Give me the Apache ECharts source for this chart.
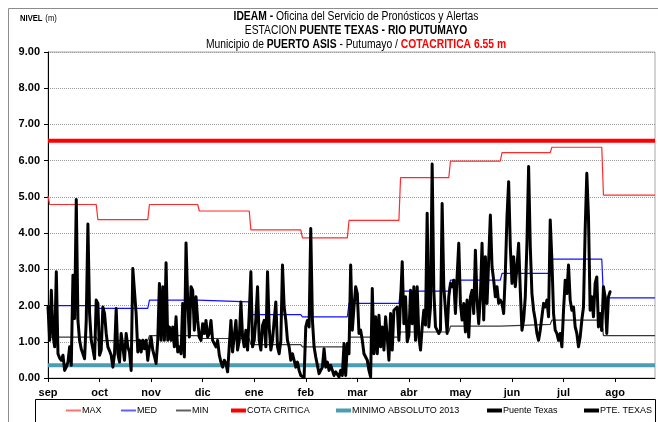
<!DOCTYPE html>
<html>
<head>
<meta charset="utf-8">
<script src="https://cdn.jsdelivr.net/npm/echarts@6/dist/echarts.min.js"></script>
<style>
  html, body { margin: 0; padding: 0; background: #fff; }
  #chart { width: 658px; height: 422px; }
</style>
</head>
<body>
<div id="chart"></div>
<script>
// Hydrological year, September to August
const months = ['sep', 'oct', 'nov', 'dic', 'ene', 'feb', 'mar', 'abr', 'may', 'jun', 'jul', 'ago'];
const monthDays = [30, 31, 30, 31, 31, 28, 31, 30, 31, 30, 31, 31];
const tickEvery = 31;   // days between month ticks on the category-style axis
const yearDays = 365;

// Monthly reference levels (m)
const maxLevel = [4.79, 4.37, 4.79, 4.61, 4.09, 3.87, 4.35, 5.53, 5.99, 6.22, 6.37, 5.05];
const maxFirstDay = 5.03;
const medLevel = [2.00, 1.92, 2.15, 2.10, 1.75, 1.69, 2.06, 2.40, 2.70, 2.89, 3.28, 2.21];
const minLevel = [1.13, 1.03, 1.17, 1.09, 0.92, 0.86, 1.13, 1.27, 1.43, 1.48, 1.60, 1.17];

const cotaCritica = 6.55;
const minimoAbsoluto2013 = 0.35;

// Daily level at Puente Texas (m), from 1 September
const dailyLevel = [
  // sep
  1.96, 1.04, 2.42, 1.20, 0.86, 2.93, 0.67, 0.55, 0.49, 0.63, 0.21, 0.30, 0.44, 0.86, 0.35, 2.84, 1.64, 4.93, 1.59, 1.04,
  0.80, 0.67, 0.53, 1.59, 4.25, 1.78, 1.04, 0.80, 0.53, 2.15, 2.06, 0.63, 0.77,
  // oct
  1.96, 1.78, 1.23, 0.86, 0.75, 0.63, 0.30, 0.67, 1.92, 0.67, 0.44, 1.23, 0.86, 0.49, 1.23, 0.86, 0.72, 0.21, 3.02, 2.98,
  1.78, 0.72, 1.04, 0.72, 1.04, 0.81, 1.04, 0.49, 0.86, 1.13,
  // nov
  0.77, 0.60, 0.40, 1.04, 2.61, 1.04, 2.52, 1.04, 3.18, 1.04, 1.41, 1.04, 1.41, 0.86, 1.69, 0.72, 0.86, 0.67, 2.06, 0.58,
  3.73, 2.15, 1.13, 2.52, 2.42, 1.32, 2.24, 1.59, 1.13,
  // dic
  1.04, 1.50, 1.23, 1.59, 1.13, 1.23, 1.59, 1.04, 0.95, 0.86, 1.04, 0.63, 0.44, 0.30, 0.49, 0.40, 0.17, 0.21, 1.59, 0.72,
  0.67, 1.59, 0.77, 1.04, 2.10, 1.13, 0.86, 1.32, 0.77, 1.78,
  // ene
  2.93, 0.86, 1.04, 1.64, 2.52, 1.04, 0.77, 1.45, 1.59, 0.86, 2.93, 1.41, 0.77, 1.04, 1.59, 2.10, 0.86, 0.67, 1.04, 3.12,
  1.96, 1.59, 1.04, 0.86, 0.49, 0.67, 0.49, 0.30, 0.44, 0.21, 0.07, 0.03, 0.01,
  // feb
  1.41, 1.59, 1.41, 4.13, 1.59, 0.86, 0.58, 0.35, 0.12, 0.21, 0.30, 0.81, 0.30, 0.44, 0.21, 0.35, 0.21, 0.07, 0.17, 0.10,
  0.03, 0.21, 0.07, 0.95, 0.07, 0.95, 0.67,
  // mar
  3.12, 1.32, 1.96, 2.52, 2.33, 1.23, 1.32, 1.04, 0.67, 0.58, 0.49, 0.21, 0.03, 2.47, 0.67, 1.69, 0.67, 1.73, 0.86, 1.41,
  0.77, 1.69, 1.13, 0.49, 1.78, 0.77, 1.87, 1.87, 1.96, 1.04, 1.04, 3.21,
  // abr
  1.50, 2.24, 1.00, 1.18, 2.42, 1.50, 2.52, 1.04, 2.52, 1.13, 0.77, 1.41, 1.87, 1.46, 4.55, 1.41, 1.96, 5.91, 2.42, 1.41,
  1.32, 1.23, 1.32, 4.82, 2.52, 1.87, 1.23, 2.24,
  // may
  2.61, 2.52, 2.70, 1.78, 2.79, 3.72, 2.06, 1.60, 2.06, 1.27, 2.15, 1.13, 2.24, 2.42, 1.78, 3.53, 2.15, 1.50, 2.24, 3.72,
  1.60, 3.35, 2.06, 3.26, 4.50, 3.07, 2.70, 2.24, 2.52, 2.06, 2.15,
  // jun
  2.06, 1.78, 2.89, 4.45, 5.42, 3.63, 2.61, 3.35, 2.52, 3.07, 3.72, 2.42, 1.32, 1.60, 2.24, 3.72, 5.84, 3.63, 2.33, 1.87,
  1.60, 1.23, 1.04, 1.32, 1.69, 2.06, 1.96, 2.15, 1.69, 4.36,
  // jul - ago
  3.26, 1.78, 1.32, 1.23, 1.04, 1.23, 0.86, 1.87, 2.70, 2.33, 3.12, 2.15, 1.87, 1.96, 1.41, 1.23, 0.86, 1.13, 1.60, 1.96,
  4.08, 5.65, 4.45, 1.87, 2.24, 1.69, 2.61, 2.79, 1.41, 1.78, 1.32, 2.52, 2.24, 1.23, 2.24, 2.38
];
const recentFromDay = 333;  // first day shown as "PTE. TEXAS"

const legendNames = ['MAX', 'MED', 'MIN', 'COTA CRITICA', 'MINIMO ABSOLUTO 2013', 'Puente Texas', 'PTE. TEXAS'];

// ---------------------------------------------------------------------------
const SANS = "'Liberation Sans', Arial, sans-serif";
const TITLE_SQUEEZE = 0.86;   // condensed look for the heading lines

const monthStart = [];
monthDays.reduce((acc, d) => { monthStart.push(acc); return acc + d; }, 0);

// Monthly values held flat over each month, stepping on the 1st
function monthlySteps(values, firstDay) {
  const pts = [];
  values.forEach((v, i) => {
    const start = monthStart[i];
    const end = i < values.length - 1 ? monthStart[i + 1] - 1 : yearDays;
    if (i === 0 && firstDay !== undefined) {
      pts.push([start, firstDay], [start + 1, v]);
    } else {
      pts.push([start, v]);
    }
    pts.push([end, v]);
  });
  return pts;
}

const tickDays = months.map((m, i) => i * tickEvery);
const dailyPoints = dailyLevel.map((v, i) => [i, v]);

const legendLeft = [66, 121, 176, 231, 336, 487, 584];
const legendIcons = {
  'MAX': { color: '#ff7070', h: 2 },
  'MED': { color: '#6060ff', h: 2 },
  'MIN': { color: '#606060', h: 2 },
  'COTA CRITICA': { color: '#ff0000', h: 4 },
  'MINIMO ABSOLUTO 2013': { color: '#4a9db3', h: 4 },
  'Puente Texas': { color: '#000', h: 4 },
  'PTE. TEXAS': { color: '#000', h: 4 }
};

const chart = echarts.init(document.getElementById('chart'), null, { renderer: 'canvas' });

const lineBase = { type: 'line', symbol: 'none', silent: true, animation: false };

function heading(y, text, rich) {
  return {
    type: 'text', silent: true, x: 356, y, scaleX: TITLE_SQUEEZE,
    style: { align: 'center', text, rich }
  };
}
const headRich = {
  b: { fontFamily: SANS, fontWeight: 'bold', fontSize: 12, fill: '#000' },
  n: { fontFamily: SANS, fontSize: 12, fill: '#000' },
  r: { fontFamily: SANS, fontWeight: 'bold', fontSize: 12, fill: '#ff0000' }
};

chart.setOption({
  backgroundColor: '#fff',
  animation: false,
  grid: {
    left: 48, right: 3, top: 52, bottom: 44,
    show: true, borderColor: '#a8a8a8', borderWidth: 1, backgroundColor: 'transparent'
  },
  legend: legendNames.map((name, i) => ({
    data: [{ name, itemStyle: { color: legendIcons[name].color } }],
    left: legendLeft[i], top: 406,
    icon: 'rect', itemWidth: 15, itemHeight: legendIcons[name].h, itemGap: 0,
    padding: 0, selectedMode: false,
    textStyle: { fontFamily: SANS, fontSize: 9, color: '#000', padding: [0, 0, 0, -4] }
  })),
  xAxis: {
    type: 'value', min: 0, max: yearDays, interval: tickEvery,
    axisLine: { show: true, onZero: false, lineStyle: { color: '#000', width: 1 } },
    axisTick: { show: true, customValues: tickDays, length: 4, lineStyle: { color: '#000' } },
    axisLabel: {
      customValues: tickDays, margin: 9,
      formatter: v => months[Math.round(v / tickEvery)] || '',
      fontFamily: SANS, fontWeight: 'bold', fontSize: 11, color: '#000'
    },
    splitLine: { show: false }
  },
  yAxis: {
    type: 'value', min: 0, max: 9, interval: 1,
    axisLine: { show: true, lineStyle: { color: '#000', width: 1 } },
    axisTick: { show: true, length: 4, lineStyle: { color: '#000' } },
    axisLabel: {
      margin: 8, formatter: v => v.toFixed(2),
      fontFamily: SANS, fontWeight: 'bold', fontSize: 11, color: '#000'
    },
    splitLine: { show: true, lineStyle: { type: [1, 1], color: '#9a9a9a', width: 1 } }
  },
  series: [
    Object.assign({}, lineBase, {
      name: 'MAX', data: monthlySteps(maxLevel, maxFirstDay),
      lineStyle: { color: '#ff2a2a', width: 1.2 }, itemStyle: { color: '#ff2a2a' }
    }),
    Object.assign({}, lineBase, {
      name: 'MED', data: monthlySteps(medLevel),
      lineStyle: { color: '#1010ff', width: 1.2 }, itemStyle: { color: '#1010ff' }
    }),
    Object.assign({}, lineBase, {
      name: 'MIN', data: monthlySteps(minLevel),
      lineStyle: { color: '#383838', width: 1.2 }, itemStyle: { color: '#383838' }
    }),
    Object.assign({}, lineBase, {
      name: 'COTA CRITICA', data: [[0, cotaCritica], [yearDays, cotaCritica]],
      lineStyle: { color: '#ff0000', width: 4 }, itemStyle: { color: '#ff0000' }
    }),
    Object.assign({}, lineBase, {
      name: 'MINIMO ABSOLUTO 2013', data: [[0, minimoAbsoluto2013], [yearDays, minimoAbsoluto2013]],
      lineStyle: { color: '#4a9db3', width: 4 }, itemStyle: { color: '#4a9db3' }
    }),
    Object.assign({}, lineBase, {
      name: 'Puente Texas', data: dailyPoints.slice(0, recentFromDay + 1),
      lineStyle: { color: '#000', width: 3, join: 'round', cap: 'round' }, itemStyle: { color: '#000' }
    }),
    Object.assign({}, lineBase, {
      name: 'PTE. TEXAS', data: dailyPoints.slice(recentFromDay),
      lineStyle: { color: '#000', width: 3, join: 'round', cap: 'round' }, itemStyle: { color: '#000' }
    })
  ],
  graphic: [
    { type: 'rect', silent: true, shape: { x: 8.5, y: 8.5, width: 700, height: 450 },
      style: { fill: 'none', stroke: '#8c8c8c', lineWidth: 1 } },
    { type: 'rect', silent: true, shape: { x: 35.5, y: 399.5, width: 620, height: 40 },
      style: { fill: 'none', stroke: '#000', lineWidth: 1 } },
    { type: 'text', silent: true, x: 20, y: 13, scaleX: 0.85,
      style: {
        text: '{b|NIVEL} {n|(m)}',
        rich: {
          b: { fontFamily: SANS, fontWeight: 'bold', fontSize: 9, fill: '#000' },
          n: { fontFamily: SANS, fontSize: 9, fill: '#000' }
        }
      } },
    heading(11, '{b|IDEAM -} {n|Oficina del Servicio de Pronósticos y Alertas}', headRich),
    heading(25, '{n|ESTACION} {b|PUENTE TEXAS - RIO PUTUMAYO}', headRich),
    heading(39, '{n|Municipio de} {b|PUERTO ASIS} {n|- Putumayo /} {r|COTACRITICA ' + cotaCritica.toFixed(2) + ' m}', headRich)
  ]
});
</script>
</body>
</html>
